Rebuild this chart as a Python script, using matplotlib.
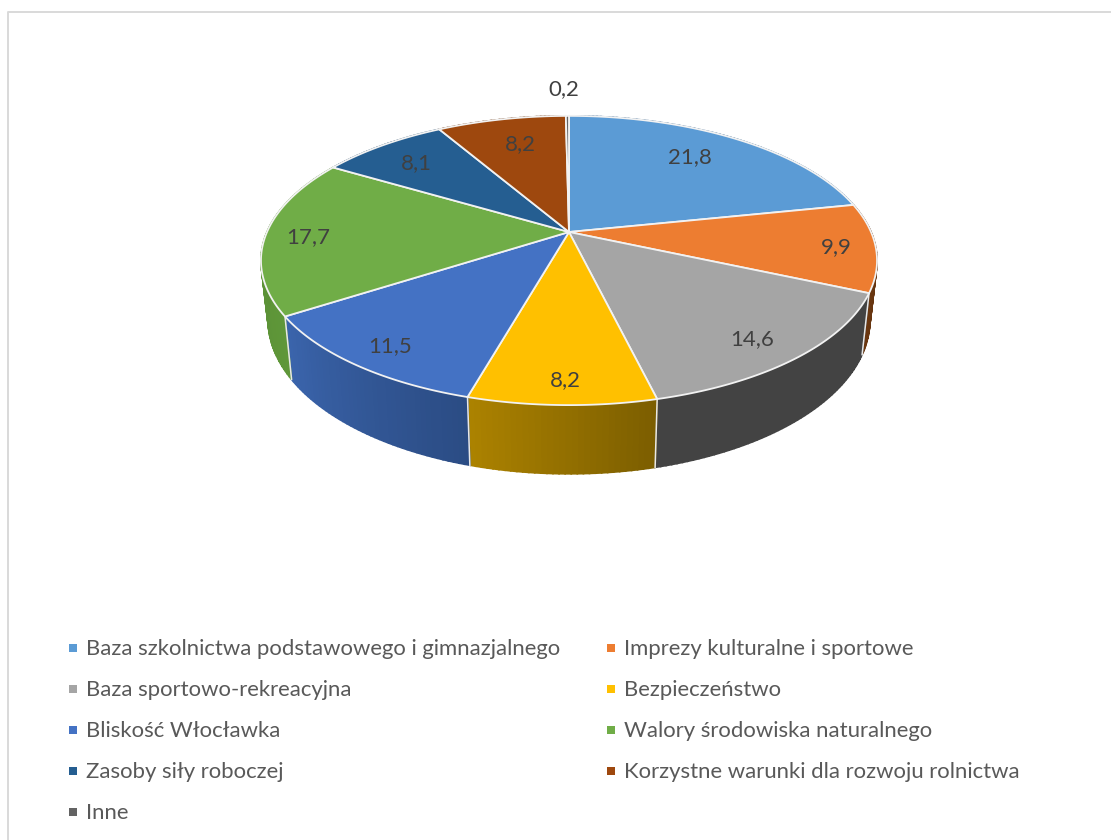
import numpy as np
import matplotlib
matplotlib.use("Agg")
import matplotlib.pyplot as plt
from matplotlib.colors import to_rgb

plt.rcParams['font.family'] = ['Lato', 'DejaVu Sans']

# --- Dane ---
categories = ["Baza szkolnictwa podstawowego i gimnazjalnego",
              "Imprezy kulturalne i sportowe",
              "Baza sportowo-rekreacyjna",
              "Bezpieczeństwo",
              "Bliskość Włocławka",
              "Walory środowiska naturalnego",
              "Zasoby siły roboczej",
              "Korzystne warunki dla rozwoju rolnictwa",
              "Inne"]
values = [21.8, 9.9, 14.6, 8.2, 11.5, 17.7, 8.1, 8.2, 0.2]
value_labels = ["21,8", "9,9", "14,6", "8,2", "11,5", "17,7", "8,1", "8,2", "0,2"]

# --- Style ---
colors = ["#5B9BD5", "#ED7D31", "#A5A5A5", "#FFC000", "#4472C4",
          "#70AD47", "#255E91", "#9E480E", "#636363"]
# kolory ścian: od prawej do lewej strony (kąt rośnie zgodnie z zegarem)
wall_from = ["#3B6A96", "#5A2E0E", "#434343", "#7C5E00", "#2B4C84",
             "#5F9739", "#1B4569", "#6B310A", "#444444"]
wall_to = ["#3B6A96", "#6B3710", "#434343", "#AD8300", "#3B65AD",
           "#568A33", "#1B4569", "#6B310A", "#444444"]
label_pos = [(690, 157), (836, 247), (752, 339), (565, 380), (390, 346),
             (308, 237), (416, 163), (520, 144), (564, 89)]
legend_x = [73, 611]
legend_y = [648, 689, 730, 771, 812]

# --- Rzut perspektywiczny dysku (w pikselach) ---
K = 0.197


def project(theta, x0, y0, a, b):
    u, v = np.sin(theta), np.cos(theta)
    w = 1 + K * v
    return x0 + a * u / w, y0 - b * v / w


def top_rim(theta):
    return project(theta, 569, 232, 302, 139)


def bottom_rim(theta):
    return project(theta, 569, 289.5, 295, 148)


fig = plt.figure(figsize=(11.11, 8.4), dpi=100)
ax = fig.add_axes([0, 0, 1, 1])
ax.set_xlim(0, 1111)
ax.set_ylim(840, 0)
ax.axis("off")

# ramka wykresu
ax.plot([1111, 8, 8], [12, 12, 840], color="#D9D9D9", lw=1.4, zorder=1)

edges = np.cumsum([0] + values) / sum(values) * 2 * np.pi

# --- Ściany boczne ---
for i in range(len(values)):
    th = np.linspace(edges[i], edges[i + 1], max(3, int(values[i] * 4)))
    c0, c1 = np.array(to_rgb(wall_from[i])), np.array(to_rgb(wall_to[i]))
    for j in range(len(th) - 1):
        c = c0 + (c1 - c0) * j / (len(th) - 1)
        xt, yt = top_rim(th[j:j + 2])
        xb, yb = bottom_rim(th[j:j + 2])
        ax.fill(np.r_[xt, xb[::-1]], np.r_[yt, yb[::-1]], color=c, lw=1.2, zorder=2)

# linie między ścianami
for t in edges[:-1]:
    xt, yt = top_rim(t)
    xb, yb = bottom_rim(t)
    ax.plot([xt, xb], [yt, yb], color="#E8E8E8", lw=1.1, zorder=3)

# --- Górna powierzchnia ---
for i in range(len(values)):
    th = np.linspace(edges[i], edges[i + 1], 80)
    x, y = top_rim(th)
    ax.fill(np.r_[569, x], np.r_[232, y], facecolor=colors[i],
            edgecolor="#F2F2F2", lw=1.3, joinstyle="round", zorder=4)

# --- Etykiety ---
for (px, py), txt in zip(label_pos, value_labels):
    ax.text(px, py, txt, ha="center", va="center", fontsize=16, color="#404040", zorder=5)

# --- Legenda ---
for i, name in enumerate(categories):
    lx = legend_x[i % 2]
    ly = legend_y[i // 2]
    ax.plot([lx], [ly], marker="s", ms=6, color=colors[i], mew=0, ls="none", zorder=5)
    ax.text(lx + 13, ly + 1, name, ha="left", va="center", fontsize=15.95, color="#595959", zorder=5)

fig.savefig("out.png", dpi=100)
